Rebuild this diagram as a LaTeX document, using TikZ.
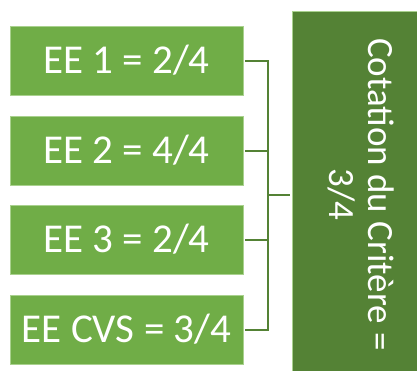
\documentclass[tikz,border=0pt]{standalone}
\usepackage{fontspec}
\setmainfont{Carlito}
\usetikzlibrary{positioning}
\definecolor{eegreen}{HTML}{70AD47}
\definecolor{critgreen}{HTML}{548235}
\definecolor{edgegreen}{HTML}{A9D18E}

\begin{document}
\begin{tikzpicture}[x=1pt, y=-1pt,
    eebox/.style={draw=edgegreen, line width=0.6pt, fill=eegreen, text=white,
        minimum width=233pt, minimum height=69pt, inner sep=0pt,
        font=\fontsize{41}{49}\selectfont},
    critbox/.style={draw=edgegreen, line width=0.6pt, fill=critgreen,
        minimum width=138pt, minimum height=367pt},
    link/.style={draw=critgreen, line width=2pt}]
    \useasboundingbox (0,0) rectangle (417,370);
    \clip (0,0) rectangle (417,370);

    % evaluation boxes
    \node[eebox] (ee1) at (126.5, 60.5) {EE 1 = 2/4};
    \node[eebox] (ee2) at (126.5, 150.5) {EE 2 = 4/4};
    \node[eebox] (ee3) at (126.5, 239.5) {EE 3 = 2/4};
    \node[eebox] (ee4) at (126.5, 329.5) {EE CVS = 3/4};

    % criterion box
    \node[critbox] (crit) at (361, 194.5) {};
    \node[rotate=-90, text=white, align=center, inner sep=0pt,
        font=\fontsize{37}{39}\selectfont] (critlabel) at (crit.center)
        {Cotation du Critère =\\3/4};

    % bracket
    \draw[link] ([xshift=-2pt]crit.west) -- ++(-22,0) coordinate (joint);
    \foreach \i in {1,...,4}
        \draw[link] ([xshift=2pt]ee\i.east) -| (joint);
\end{tikzpicture}
\end{document}
